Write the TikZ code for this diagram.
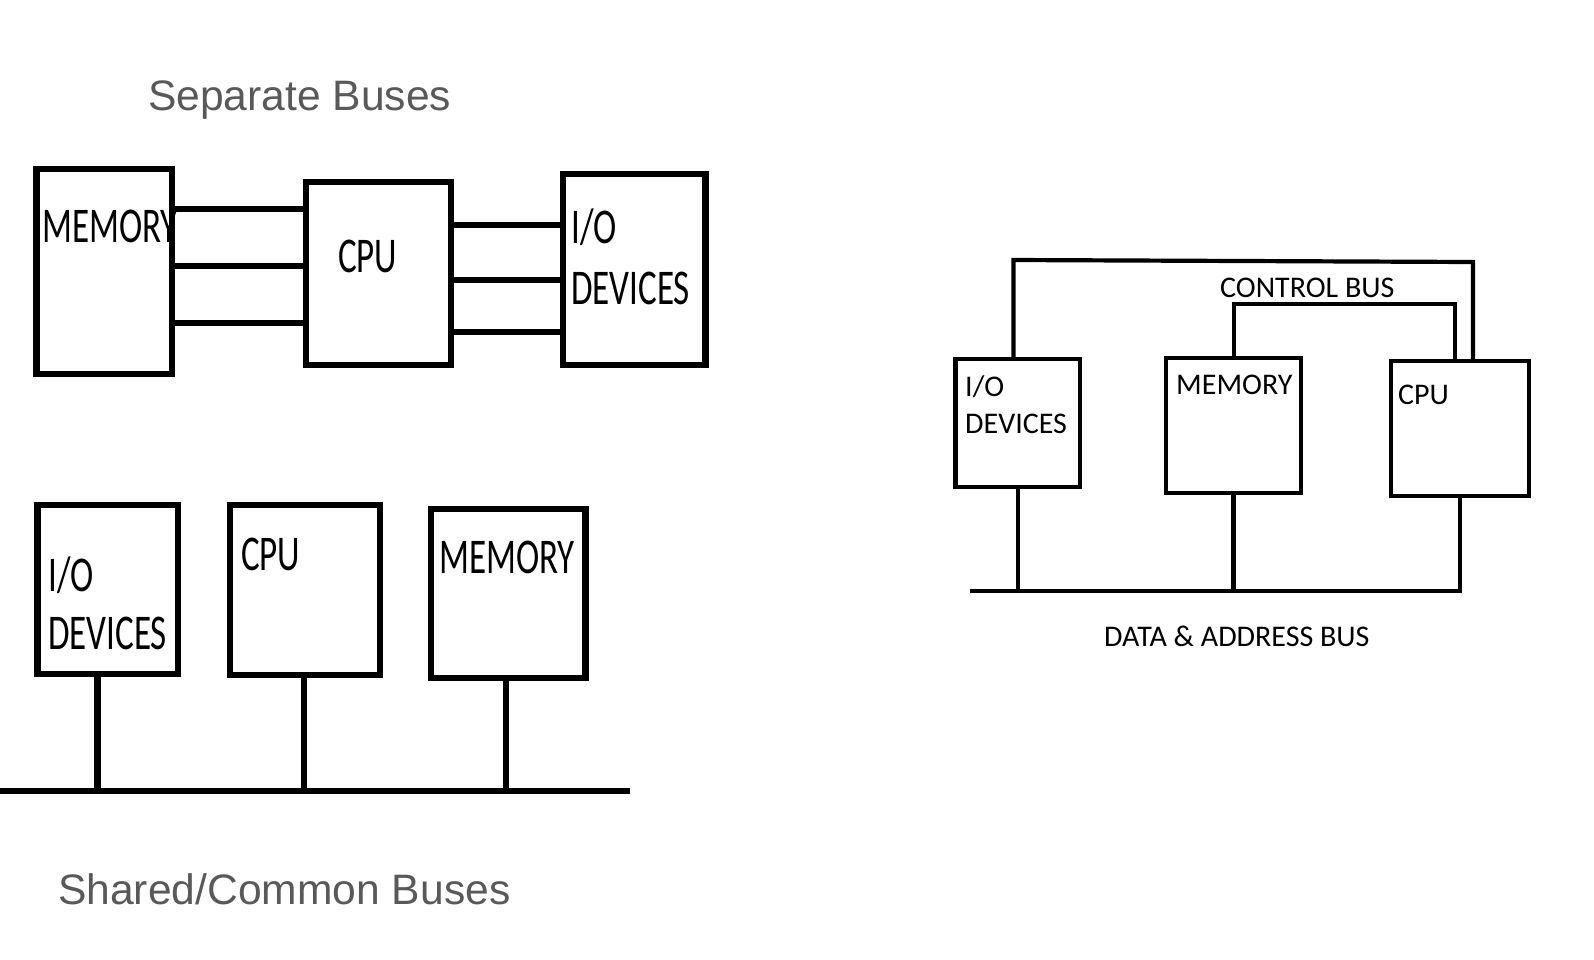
\documentclass[tikz,border=0pt]{standalone}
\usepackage{fontspec}
\newfontfamily\paintfont{Carlito}
\newfontfamily\paintcond[FakeStretch=0.7]{Carlito}
\newfontfamily\titlefont{Liberation Sans}
\definecolor{titlegray}{HTML}{595959}
\begin{document}
\begin{tikzpicture}[x=1pt,y=-1pt,
  thickbox/.style={draw=black,line width=6.5pt,inner sep=0pt,rectangle},
  thinbox/.style={draw=black,line width=4.3pt,inner sep=0pt,rectangle},
  thickbus/.style={draw=black,line width=6.5pt},
  thinbus/.style={draw=black,line width=4.2pt},
  bigtxt/.style={inner sep=0pt,anchor=base west,font=\paintcond\fontsize{50}{60}\selectfont},
  smalltxt/.style={inner sep=0pt,anchor=base west,font=\paintfont\fontsize{30}{36}\selectfont},
  titletxt/.style={inner sep=0pt,anchor=base west,text=titlegray,font=\titlefont\fontsize{42.6}{50}\selectfont}]
\useasboundingbox (0,0) rectangle (1594,959);

% titles
\node[titletxt] (t1) at (148,110) {Separate Buses};
\node[titletxt] (t2) at (58,904) {Shared/Common Buses};

% ---------- separate buses ----------
\node[thickbox,minimum width=135.5pt,minimum height=205pt] (memA) at (104.25,271.5) {};
\node[thickbox,minimum width=145pt,minimum height=183pt] (cpuA) at (378.5,273.5) {};
\node[thickbox,minimum width=142.5pt,minimum height=191pt] (ioA) at (634.25,269.5) {};
\node[bigtxt] (memAt) at (42,242) {MEMORY};
\node[bigtxt] (cpuAt) at (338,272) {CPU};
\node[bigtxt] (ioAt1) at (571,243) {I/O};
\node[bigtxt] (ioAt2) at (571,304) {DEVICES};

\draw[thickbus] (memA.east |- 0,209) -- (cpuA.west |- 0,209);
\draw[thickbus] (memA.east |- 0,266) -- (cpuA.west |- 0,266);
\draw[thickbus] (memA.east |- 0,323) -- (cpuA.west |- 0,323);
\draw[thickbus] (cpuA.east |- 0,225) -- (ioA.west |- 0,225);
\draw[thickbus] (cpuA.east |- 0,280) -- (ioA.west |- 0,280);
\draw[thickbus] (cpuA.east |- 0,332) -- (ioA.west |- 0,332);

% ---------- shared buses ----------
\node[thickbox,minimum width=140.4pt,minimum height=169pt] (ioB) at (107.8,589.5) {};
\node[thickbox,minimum width=150pt,minimum height=170pt] (cpuB) at (305,590) {};
\node[thickbox,minimum width=154.6pt,minimum height=169pt] (memB) at (508.3,593.5) {};
\node[bigtxt] (ioBt1) at (48,591) {I/O};
\node[bigtxt] (ioBt2) at (48,649) {DEVICES};
\node[bigtxt] (cpuBt) at (241,570) {CPU};
\node[bigtxt] (memBt) at (439,573) {MEMORY};

\coordinate (busBL) at (0,791);
\coordinate (busBR) at (630,791);
\draw[thickbus] (busBL) -- (busBR);
\draw[thickbus] (ioB.south -| 97.6,0) -- (busBL -| 97.6,0);
\draw[thickbus] (cpuB.south -| 304,0) -- (busBL -| 304,0);
\draw[thickbus] (memB.south -| 506,0) -- (busBL -| 506,0);

% ---------- right diagram ----------
\node[thinbox,minimum width=124.1pt,minimum height=128pt] (ioR) at (1017.65,423) {};
\node[thinbox,minimum width=135pt,minimum height=135pt] (memR) at (1233.5,425.5) {};
\node[thinbox,minimum width=138.3pt,minimum height=135pt] (cpuR) at (1459.85,428.5) {};
\node[smalltxt] (ioRt1) at (965,396) {I/O};
\node[smalltxt] (ioRt2) at (965,433) {DEVICES};
\node[smalltxt] (memRt) at (1176,394) {MEMORY};
\node[smalltxt] (cpuRt) at (1398,404) {CPU};
\node[smalltxt] (ctrlt) at (1220,297) {CONTROL BUS};
\node[smalltxt] (datat) at (1104,646) {DATA \& ADDRESS BUS};

% control buses
\coordinate (cO1) at (1013.5,260);
\coordinate (cO2) at (1473,262);
\coordinate (cI1) at (1234,304);
\coordinate (cI2) at (1455,304);
\draw[thinbus] (ioR.north -| cO1) -- (cO1) -- (cO2) -- (cpuR.north -| cO2);
\draw[thinbus] (memR.north -| cI1) -- (cI1) -- (cI2) -- (cpuR.north -| cI2);

% data & address bus
\coordinate (dL) at (970,590.6);
\coordinate (dR) at (1462,590.6);
\draw[thinbus] (dL) -- (dR);
\draw[thinbus] (ioR.south) -- (ioR.south |- dL);
\draw[thinbus] (memR.south) -- (memR.south |- dL);
\draw[thinbus] (cpuR.south) -- (cpuR.south |- dL);
\end{tikzpicture}
\end{document}
